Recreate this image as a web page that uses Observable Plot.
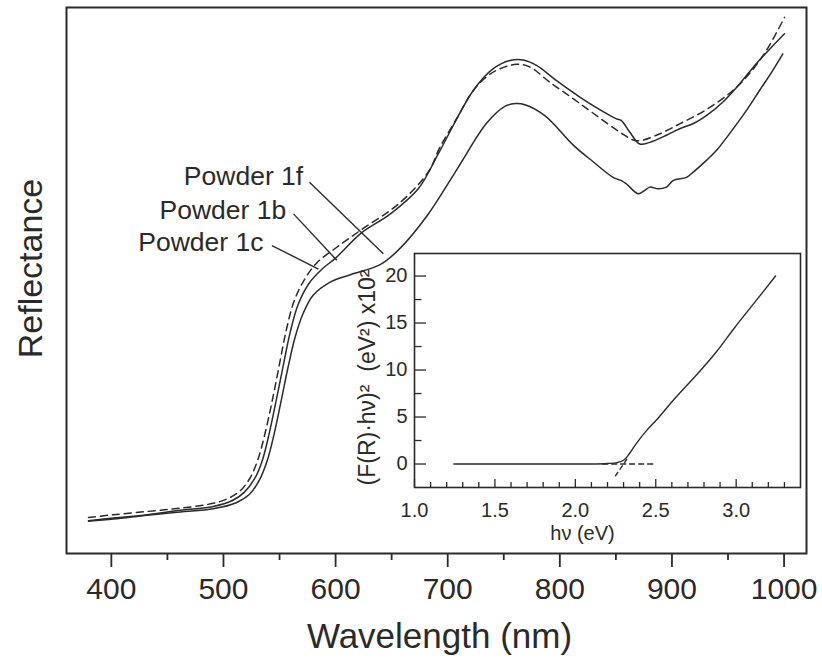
<!DOCTYPE html>
<html><head><meta charset="utf-8">
<script src="https://cdn.jsdelivr.net/npm/d3@7"></script>
<script src="https://cdn.jsdelivr.net/npm/@observablehq/plot@0.6"></script>
<style>
body{margin:0;background:#fff;}
#wrap{position:relative;width:822px;height:661px;}
#inset{position:absolute;left:340px;top:240px;}
</style></head><body>
<div id="wrap"><div id="main"></div><div id="inset"></div></div>
<script>
// ---- Main spectra (wavelength nm, reflectance arb. units 0-100) ----
const lambda1c = [379.6,401.9,432.1,461.5,490.9,504.3,515.0,523.9,531.0,537.3,543.5,549.7,555.9,563.1,572.9,583.6,600.5,622.3,656.6,682.4,693.1,708.7,722.8,734.6,743.6,761.4,773.3,791.1,811.9,832.7,853.4,868.3,886.1,906.9,930.7,954.3,969.2,984.1,1000.4];
const refl1c   = [6.6,7.1,7.7,8.3,9.2,10.1,11.5,13.9,17.4,22.2,28.0,34.4,40.8,46.3,50.4,53.3,56.0,59.2,64.1,69.8,74.4,79.9,84.8,87.3,88.5,89.6,89.1,86.3,83.3,80.2,77.2,75.6,76.6,78.7,81.3,84.8,87.9,92.1,98.2];

const lambda1b = [379.6,401.9,432.1,461.5,490.9,507.9,518.5,527.5,534.6,540.8,547.0,553.3,559.5,566.6,576.4,588.0,600.5,622.3,648.2,674.1,693.1,722.8,740.6,755.5,767.3,779.2,797.1,817.8,835.6,850.5,854.9,862.3,871.3,880.2,895.1,906.9,918.7,930.7,945.5,960.3,975.2,990.0,1000.4];
const refl1b   = [6.0,6.5,7.1,7.9,8.6,9.7,11.2,13.6,17.0,22.0,28.0,34.4,40.5,45.6,49.5,52.1,54.2,58.6,62.1,66.9,73.8,84.8,88.8,90.3,90.4,89.4,86.6,83.6,81.3,79.6,79.3,77.2,75.0,75.3,76.6,77.8,78.7,80.2,82.7,86.0,89.7,93.0,95.2];

const lambda1f = [379.6,401.9,432.1,461.5,490.9,511.4,523.0,531.9,539.0,545.3,551.5,557.7,564.0,571.1,580.0,596.0,613.8,639.7,656.6,682.4,708.7,734.6,751.0,760.5,768.8,786.6,812.5,829.4,847.5,854.9,859.4,869.7,875.7,880.2,887.6,895.1,901.0,912.9,918.7,930.7,939.6,951.4,966.3,978.1,990.0,998.9];
const refl1f   = [5.9,6.3,7.0,7.6,8.2,9.3,10.8,13.4,17.0,22.0,28.0,34.2,39.7,44.0,47.3,49.8,51.1,52.9,55.7,62.1,70.5,78.8,81.9,82.4,82.2,80.2,74.7,71.8,68.9,68.3,67.7,65.9,66.5,67.1,66.8,67.1,68.3,68.9,69.8,72.0,73.8,76.9,81.1,84.8,88.5,91.5];

const majorWl = [400,500,600,700,800,900,1000];
const minorWl = [450,550,650,750,850,950];

const sampleNames = ["Powder 1f","Powder 1b","Powder 1c"];
const labelWl  = [571.1,556.0,535.7];
const labelR   = [69.0,62.9,57.0];
const leaderWl1 = [576.7,562.5,543.2];
const leaderR1  = [68.0,62.2,56.4];
const leaderWl2 = [642.6,601.1,584.7];
const leaderR2  = [54.9,53.7,52.1];

// ---- Inset: Tauc plot ----
const energy = [1.245,1.6,1.9,2.1,2.2,2.26,2.3,2.34,2.38,2.44,2.5,2.62,2.76,2.88,2.99,3.12,3.245];
const tauc   = [0,0,0,0,0.05,0.15,0.4,1.2,2.2,3.5,4.6,7.0,9.6,12.0,14.5,17.3,20.0];
const baseE = [2.17,2.5];
const baseV = [0,0];
const tangentE = [2.25,2.32];
const tangentV = [-1.25,0.5];
const insetMajorE = [1.0,1.5,2.0,2.5,3.0];
const insetMinorE = [1.1,1.2,1.3,1.4,1.6,1.7,1.8,1.9,2.1,2.2,2.3,2.4,2.6,2.7,2.8,2.9,3.1,3.2,3.3];
const insetMajorV = [0,5,10,15,20];
const insetMinorV = [2.5,7.5,12.5,17.5];

const rows = (xs, ys) => xs.map((x, i) => ({x, y: ys[i]}));
const FONT = "'Liberation Sans', Arial, Helvetica, sans-serif";
const INK = "#2a2a2a";

const main = Plot.plot({
  width: 822, height: 661,
  marginLeft: 66, marginRight: 16, marginTop: 7, marginBottom: 108,
  style: {fontFamily: FONT, background: "white", color: INK},
  x: {domain: [360, 1020]},
  y: {domain: [0, 100], axis: null},
  marks: [
    Plot.frame({stroke: INK, strokeWidth: 2}),
    Plot.axisX({ticks: majorWl, tickSize: 14, tickPadding: 10, fontSize: 30, strokeWidth: 1.8, tickFormat: d => String(d), label: null}),
    Plot.axisX({ticks: minorWl, tickSize: 7, strokeWidth: 1.8, tickFormat: () => "", label: null}),
    Plot.text(["Wavelength (nm)"], {frameAnchor: "bottom", lineAnchor: "bottom", dy: 94, dx: 3, fontSize: 35, fill: INK}),
    Plot.text(["Reflectance"], {frameAnchor: "left", textAnchor: "middle", lineAnchor: "middle", rotate: -90, dx: -35, dy: -12, fontSize: 34, fill: INK}),
    Plot.line(rows(lambda1c, refl1c), {x: "x", y: "y", stroke: INK, strokeWidth: 1.5, strokeDasharray: "7,5", curve: "catmull-rom"}),
    Plot.line(rows(lambda1b, refl1b), {x: "x", y: "y", stroke: INK, strokeWidth: 1.5, curve: "catmull-rom"}),
    Plot.line(rows(lambda1f, refl1f), {x: "x", y: "y", stroke: INK, strokeWidth: 1.5, curve: "catmull-rom"}),
    Plot.link(sampleNames.map((n, i) => i), {x1: i => leaderWl1[i], y1: i => leaderR1[i], x2: i => leaderWl2[i], y2: i => leaderR2[i], stroke: INK, strokeWidth: 1.4}),
    Plot.text(sampleNames, {x: (d, i) => labelWl[i], y: (d, i) => labelR[i], text: d => d, textAnchor: "end", fontSize: 26.5, fill: INK})
  ]
});
document.getElementById("main").appendChild(main);

const inset = Plot.plot({
  width: 470, height: 310,
  marginLeft: 74, marginRight: 10, marginTop: 13, marginBottom: 63,
  style: {fontFamily: FONT, background: "transparent", color: INK},
  x: {domain: [1.0, 3.4]},
  y: {domain: [-2.5, 22.4]},
  marks: [
    Plot.frame({stroke: INK, strokeWidth: 1.6, fill: "white"}),
    Plot.axisX({ticks: insetMajorE, tickSize: -8, tickPadding: 23, fontSize: 20, strokeWidth: 1.3, tickFormat: d => d.toFixed(1), label: null}),
    Plot.axisX({ticks: insetMinorE, tickSize: -5, strokeWidth: 1.3, tickFormat: () => "", label: null}),
    Plot.axisY({ticks: insetMajorV, tickSize: -12, tickPadding: 19, fontSize: 20, strokeWidth: 1.3, tickFormat: d => String(d), label: null}),
    Plot.axisY({ticks: insetMinorV, tickSize: -7.5, strokeWidth: 1.3, tickFormat: () => "", label: null}),
    Plot.text(["hν (eV)"], {frameAnchor: "bottom", lineAnchor: "bottom", dy: 52, dx: -25, fontSize: 20, fill: INK}),
    Plot.text(["(F(R)·hν)²  (eV²) x10²"], {frameAnchor: "left", textAnchor: "middle", lineAnchor: "middle", rotate: -90, dx: -47, dy: 7, fontSize: 23, fill: INK}),
    Plot.line(rows(energy, tauc), {x: "x", y: "y", stroke: INK, strokeWidth: 1.4, curve: "catmull-rom"}),
    Plot.line(rows(baseE, baseV), {x: "x", y: "y", stroke: INK, strokeWidth: 1.4, strokeDasharray: "5,4"}),
    Plot.line(rows(tangentE, tangentV), {x: "x", y: "y", stroke: INK, strokeWidth: 1.4, strokeDasharray: "4,4"})
  ]
});
document.getElementById("inset").appendChild(inset);
</script>
</body></html>
